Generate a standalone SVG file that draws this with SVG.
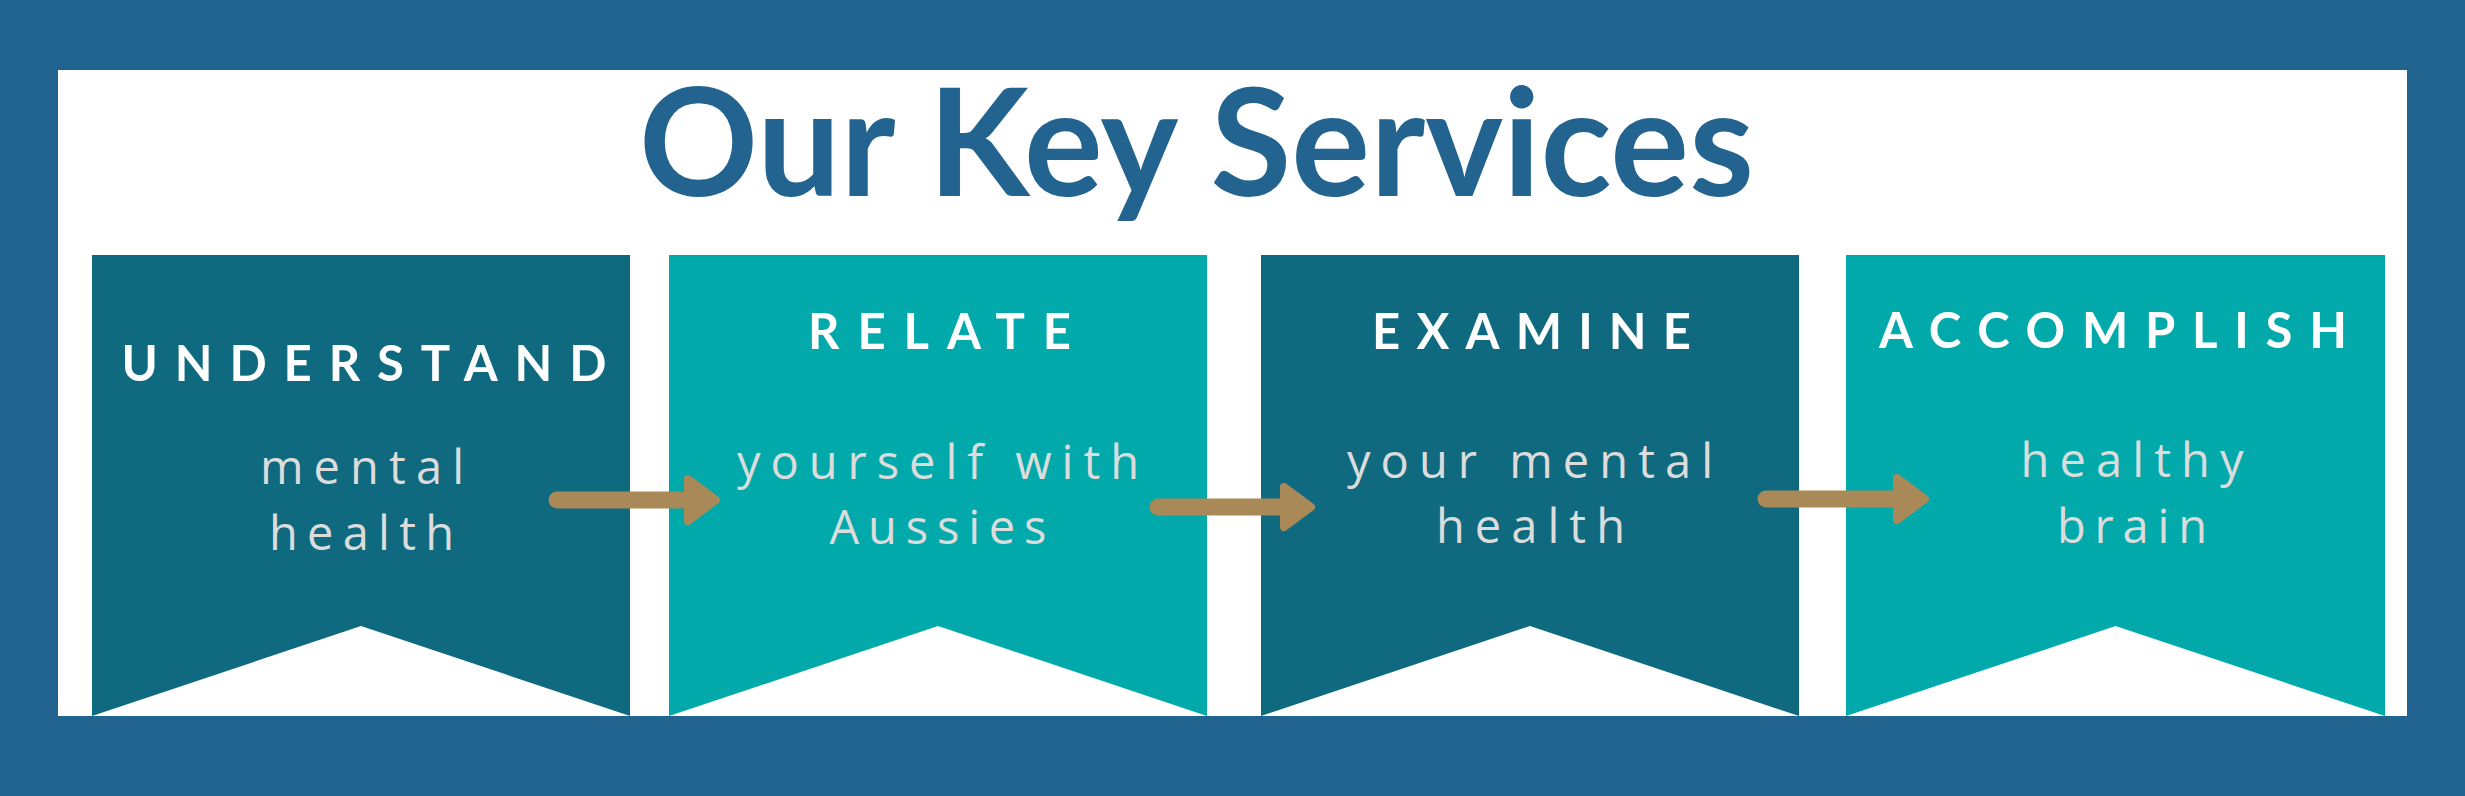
<svg xmlns="http://www.w3.org/2000/svg" width="2465" height="796" viewBox="0 0 2465 796">
  <style>
    .dark { fill: #0F6A7F; }
    .light { fill: #01A9AA; }
    .head { font-family: Lato, "Open Sans", sans-serif; font-weight: 700; font-size: 49px; fill: #FFFFFF; text-anchor: middle; }
    .sub { font-family: "Open Sans", Lato, sans-serif; font-weight: 400; font-size: 47px; fill: #DCDCDC; text-anchor: middle; }
    .title { font-family: Lato, "Open Sans", sans-serif; font-weight: 700; font-size: 150px; fill: #22648F; }
    .shaft { stroke: #A88957; stroke-width: 17; stroke-linecap: round; fill: none; }
    .tip { fill: #A88957; stroke: #A88957; stroke-width: 8; stroke-linejoin: round; }
  </style>
  <rect x="0" y="0" width="2465" height="796" fill="#21648F"/>
  <rect x="58" y="70" width="2349" height="646" fill="#FFFFFF"/>
  <g id="title">
    <text class="title" x="639" y="196" textLength="1115" lengthAdjust="spacingAndGlyphs">Our Key Services</text>
  </g>
  <g id="understand">
    <polygon class="dark" points="92,255 630,255 630,716 361,626 92,716"/>
    <text class="head" x="364" y="381" textLength="485" lengthAdjust="spacing">UNDERSTAND</text>
    <text class="sub" x="362" y="484" textLength="204" lengthAdjust="spacing">mental</text>
    <text class="sub" x="361.5" y="550" textLength="185" lengthAdjust="spacing">health</text>
  </g>
  <g id="relate">
    <polygon class="light" points="669,255 1207,255 1207,716 938,626 669,716"/>
    <text class="head" x="939.5" y="349" textLength="263" lengthAdjust="spacing">RELATE</text>
    <text class="sub" x="938" y="479" textLength="402" lengthAdjust="spacing">yourself with</text>
    <text class="sub" x="938" y="544" textLength="217" lengthAdjust="spacing">Aussies</text>
  </g>
  <g id="examine">
    <polygon class="dark" points="1261,255 1799,255 1799,716 1530,626 1261,716"/>
    <text class="head" x="1531.5" y="349" textLength="319" lengthAdjust="spacing">EXAMINE</text>
    <text class="sub" x="1530" y="478" textLength="366" lengthAdjust="spacing">your mental</text>
    <text class="sub" x="1530.5" y="543" textLength="189" lengthAdjust="spacing">health</text>
  </g>
  <g id="accomplish">
    <polygon class="light" points="1846,255 2385,255 2385,716 2115.5,626 1846,716"/>
    <text class="head" x="2113" y="348" textLength="468" lengthAdjust="spacing">ACCOMPLISH</text>
    <text class="sub" x="2132" y="477" textLength="223" lengthAdjust="spacing">healthy</text>
    <text class="sub" x="2132" y="543" textLength="150" lengthAdjust="spacing">brain</text>
  </g>
  <g id="connectors">
    <line class="shaft" x1="557" y1="500" x2="690" y2="500"/>
    <polygon class="tip" points="688,479 716,500 688,521"/>
    <line class="shaft" x1="1158" y1="507" x2="1286" y2="507"/>
    <polygon class="tip" points="1284,487 1311,507 1284,527"/>
    <line class="shaft" x1="1766" y1="499" x2="1898" y2="499"/>
    <polygon class="tip" points="1897,478 1925,499 1897,520"/>
  </g>
</svg>
